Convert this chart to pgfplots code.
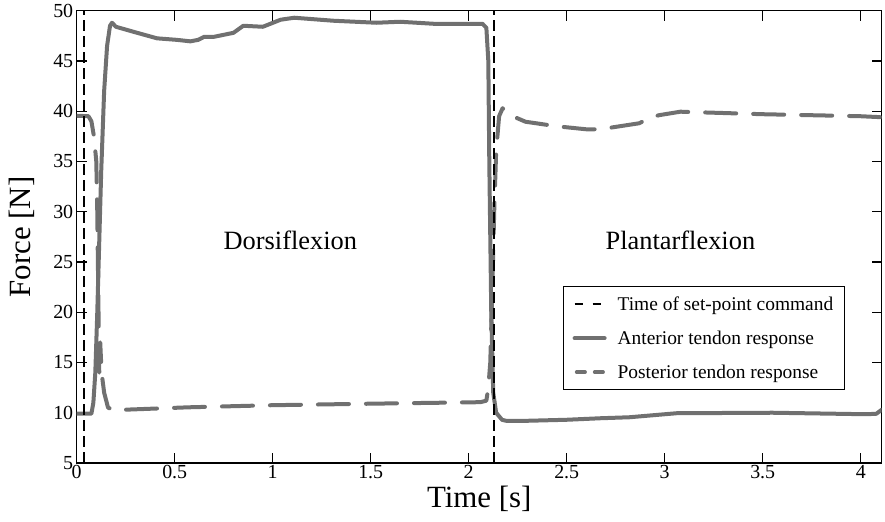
\documentclass[border=0pt]{standalone}
\usepackage{fontspec}
\setmainfont{Liberation Serif}
\usepackage{pgfplots}
\pgfplotsset{compat=1.18}
\definecolor{resp}{RGB}{112,112,112}

\begin{document}
\begin{tikzpicture}
\begin{axis}[
    scale only axis,
    width=805bp, height=452.3bp,
    xmin=0, xmax=4.107, ymin=5, ymax=50,
    xtick={0,0.5,...,4}, ytick={5,10,...,50},
    tick align=inside, major tick length=10bp,
    axis line style={line width=1.2bp},
    every tick/.style={black, line width=1.2bp},
    /pgf/number format/assume math mode=true,
    ticklabel style={font=\fontsize{20}{23}\selectfont},
    xticklabel style={inner ysep=2bp},
    xlabel={Time [s]}, ylabel={Force [N]},
    label style={font=\fontsize{31}{35}\selectfont},
    x label style={at={(axis description cs:0.5,-0.08)}, anchor=center},
    y label style={at={(axis description cs:-0.068,0.5)}, anchor=center, rotate=0},
    legend style={at={(0.954,0.391)}, anchor=north east, draw=black,
        line width=0.8bp, font=\fontsize{19.5}{22}\selectfont,
        inner xsep=9bp, inner ysep=8bp, row sep=15bp, cells={anchor=west},
        /tikz/every odd column/.append style={column sep=9bp}},
    legend image code/.code={\draw[#1] (0bp,0bp) -- (30bp,0bp);},
]
\addlegendimage{black, line width=2bp, dash pattern=on 8bp off 10bp}
\addlegendentry{Time of set-point command}

% anterior tendon
\addplot[resp, line width=4bp, line join=round, line cap=round] coordinates {
(0,9.9) (0.075,9.9) (0.085,11) (0.095,14) (0.105,20) (0.115,27) (0.125,34)
(0.14,42) (0.155,46.5) (0.17,48.5) (0.18,48.8) (0.2,48.4) (0.29,47.9)
(0.41,47.25) (0.51,47.1) (0.58,46.95) (0.62,47.1) (0.65,47.4) (0.7,47.4) (0.8,47.8)
(0.85,48.5) (0.95,48.4) (1.04,49.1) (1.11,49.3) (1.31,49.0) (1.53,48.8)
(1.65,48.9) (1.82,48.7) (2.07,48.7) (2.09,48.3) (2.1,45) (2.105,35)
(2.115,20) (2.125,12) (2.14,10) (2.17,9.3) (2.19,9.2) (2.3,9.2) (2.5,9.3)
(2.67,9.45) (2.82,9.55) (3.06,9.95) (3.55,10.0) (4.03,9.85) (4.08,9.9) (4.107,10.3)
};
\addlegendentry{Anterior tendon response}

% posterior tendon
\addplot[resp, line width=4bp, line join=round, line cap=round,
    dash pattern=on 31bp off 17bp,
    legend image code/.code={\draw[resp, line width=3.5bp, line cap=round,
        dash pattern=on 8.5bp off 9.5bp] (2bp,0bp) -- (30bp,0bp);}] coordinates {
(0,39.55) (0.06,39.5) (0.075,39) (0.088,37.5) (0.1,35) (0.105,30) (0.11,22)
(0.115,14) (0.12,17) (0.127,14) (0.14,12) (0.16,10.5) (0.2,10.2) (0.245,10.3)
(0.57,10.54) (1.0,10.75) (1.5,10.9) (2.06,11.05) (2.09,11.2) (2.1,12.5)
(2.11,15) (2.12,22) (2.13,30) (2.14,36) (2.155,39.5) (2.173,40.3) (2.2,39.7)
(2.29,38.95) (2.45,38.5) (2.6,38.2) (2.67,38.2) (2.77,38.5) (2.87,38.8)
(2.92,39.3) (2.97,39.6) (3.08,39.95) (3.5,39.7) (4.0,39.5) (4.107,39.4)
};
\addlegendentry{Posterior tendon response}

% set-point commands
\addplot[black, line width=2bp, dash pattern=on 11bp off 5bp, forget plot]
    coordinates {(0.039,5) (0.039,50)};
\addplot[black, line width=2bp, dash pattern=on 11bp off 5bp, forget plot]
    coordinates {(2.129,5) (2.129,50)};

\node[font=\fontsize{26.5}{30}\selectfont] at (axis cs:1.09,27.2) {Dorsiflexion};
\node[font=\fontsize{26.5}{30}\selectfont] at (axis cs:3.08,27.2) {Plantarflexion};

\coordinate (ll) at (rel axis cs:0,0);
\coordinate (ur) at (rel axis cs:1,1);
\end{axis}
\pgfresetboundingbox
\path ([shift={(-76.7bp,-59bp)}]ll) rectangle ([shift={(3.3bp,10.7bp)}]ur);
\end{tikzpicture}
\end{document}
